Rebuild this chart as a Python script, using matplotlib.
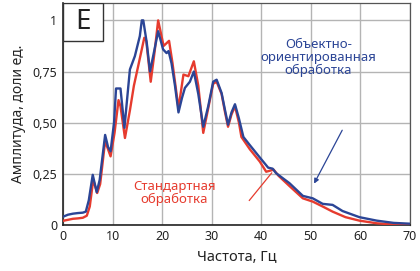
import numpy as np
import matplotlib
matplotlib.use("Agg")
import matplotlib.pyplot as plt
from matplotlib.patches import Rectangle

plt.rcParams["font.family"] = ["Noto Sans", "DejaVu Sans"]

# ---------------------------------------------------------------------
# Данные
# ---------------------------------------------------------------------
freq_obj = [0, 1, 2, 3, 4, 4.6, 5.2, 6.0, 6.8, 7.4, 8.5, 9.1, 9.6, 10.3,
            10.7, 11.6, 12.4, 12.8, 13.5, 14.5, 15.5, 15.9, 16.2, 16.9,
            17.55, 18.4, 19.2, 20.2, 20.9, 21.3, 21.9, 22.6, 23.3, 24.0,
            24.6, 25.6, 26.4, 27.3, 28.3, 29.3, 30.3, 31.0, 32.0, 32.7,
            33.3, 34.0, 34.7, 35.5, 36.4, 37.7, 39.7, 41.4, 42.3, 43.0,
            45.7, 48.4, 50.4, 52.4, 54.4, 56.4, 59.8, 63.3, 66.7, 70]
amp_obj = [0.04, 0.05, 0.055, 0.058, 0.06, 0.065, 0.12, 0.245, 0.16, 0.22,
           0.44, 0.38, 0.36, 0.50, 0.667, 0.667, 0.475, 0.58, 0.76, 0.825,
           0.923, 1.0, 1.0, 0.89, 0.75, 0.85, 0.947, 0.858, 0.84, 0.85,
           0.79, 0.68, 0.55, 0.62, 0.67, 0.70, 0.75, 0.64, 0.48, 0.58,
           0.70, 0.71, 0.645, 0.56, 0.49, 0.55, 0.59, 0.52, 0.43, 0.39,
           0.33, 0.28, 0.275, 0.253, 0.204, 0.142, 0.13, 0.103, 0.098,
           0.068, 0.038, 0.021, 0.01, 0.006]

freq_std = [0, 1, 2, 3, 4, 4.8, 5.4, 6.1, 6.9, 7.5, 8.5, 9.6, 10.4, 11.2,
            11.6, 12.5, 13.5, 14.3, 15.2, 16.4, 16.8, 17.7, 18.5, 19.2,
            20.3, 21.4, 22.1, 23.3, 24.3, 25.3, 26.4, 27.3, 28.3, 29.3,
            30.3, 31.0, 32.0, 32.7, 33.3, 34.0, 34.7, 35.5, 36.0, 37.7,
            39.7, 41.0, 42.5, 43.5, 45.7, 48.4, 50.4, 52.4, 54.4, 57.0,
            59.8, 63.3, 66.7, 70]
amp_std = [0.02, 0.025, 0.03, 0.032, 0.035, 0.045, 0.09, 0.22, 0.156, 0.20,
           0.41, 0.335, 0.45, 0.61, 0.58, 0.425, 0.56, 0.68, 0.78, 0.915,
           0.90, 0.70, 0.85, 1.0, 0.875, 0.90, 0.79, 0.57, 0.735, 0.727,
           0.80, 0.68, 0.45, 0.57, 0.69, 0.70, 0.64, 0.55, 0.48, 0.54,
           0.58, 0.50, 0.43, 0.37, 0.31, 0.26, 0.27, 0.24, 0.19, 0.13,
           0.114, 0.09, 0.065, 0.038, 0.021, 0.008, 0.002, 0.0]

x_ticks = [0, 10, 20, 30, 40, 50, 60, 70]
y_ticks = [0, 0.25, 0.5, 0.75, 1]
y_tick_labels = ["0", "0,25", "0,50", "0,75", "1"]

blue = "#2b4596"
red = "#e63b2e"

# ---------------------------------------------------------------------
# Рисунок
# ---------------------------------------------------------------------
fig = plt.figure(figsize=(4.2, 2.71), dpi=100)
ax = fig.add_axes([0.15, 0.17, 0.826, 0.819])

ax.plot(freq_std, amp_std, color=red, lw=1.7, zorder=3)
ax.plot(freq_obj, amp_obj, color=blue, lw=1.7, zorder=4)

ax.set_xlim(0, 70)
ax.set_ylim(0, 1.085)
ax.set_xticks(x_ticks)
ax.set_yticks(y_ticks)
ax.set_yticklabels(y_tick_labels)
ax.tick_params(length=0, labelsize=9, colors="#222222", pad=4)
ax.grid(True, color="#b4b4b4", lw=1.0)
ax.set_axisbelow(True)

for side in ["left", "bottom"]:
    ax.spines[side].set_color("#222222")
    ax.spines[side].set_linewidth(1.2)
for side in ["top", "right"]:
    ax.spines[side].set_color("#555555")
    ax.spines[side].set_linewidth(0.9)

ax.set_xlabel("Частота, Гц", fontsize=10.5, color="#222222", labelpad=5)
ax.set_ylabel("Амплитуда, доли ед.", fontsize=10, color="#222222", labelpad=5)

# метка панели
ax.add_patch(Rectangle((0, 0.829), 0.115, 0.171, transform=ax.transAxes,
                       fc="white", ec="#333333", lw=1.0, zorder=6))
ax.text(0.0575, 0.914, "E", transform=ax.transAxes, fontsize=20,
        ha="center", va="center", color="#222222", zorder=7)

# подписи кривых
ax.text(51.5, 0.82, "Объектно-\nориентированная\nобработка", fontsize=9.5,
        color=blue, ha="center", va="center", linespacing=1.0)
ax.annotate("", xy=(50.4, 0.19), xytext=(56.6, 0.475),
            arrowprops=dict(arrowstyle="-|>", color=blue, lw=0.9,
                            mutation_scale=7))

ax.text(22.5, 0.157, "Стандартная\nобработка", fontsize=9.5,
        color=red, ha="center", va="center", linespacing=1.0)
ax.plot([37.6, 42.1], [0.12, 0.254], color=red, lw=0.9)

fig.savefig("out.png", dpi=100)
